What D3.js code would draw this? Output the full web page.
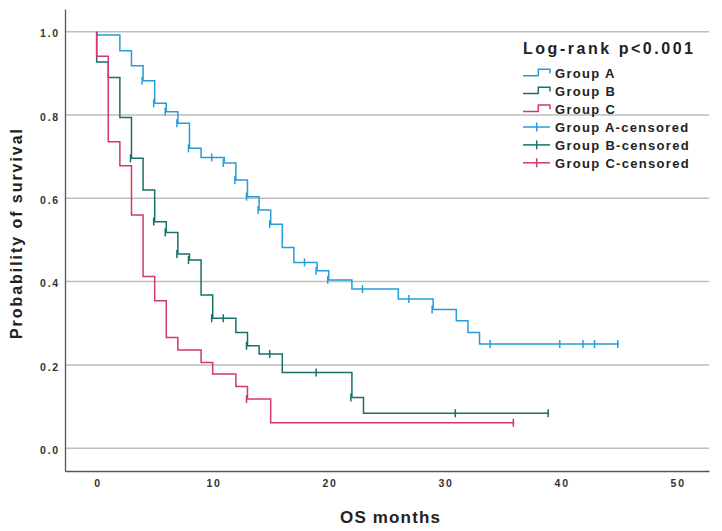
<!DOCTYPE html>
<html>
<head>
<meta charset="utf-8">
<script src="https://cdn.jsdelivr.net/npm/d3@7"></script>
<style>
  body { margin: 0; background: #fff; }
  svg { font-family: "Liberation Sans", Arial, sans-serif; }
</style>
</head>
<body>
<svg id="chart" width="722" height="531"></svg>
<script>
// Kaplan-Meier steps (time in months, survival after the drop)
const groupATimes = [0, 2, 3, 4, 5, 6, 7, 8, 9, 11, 12, 13, 14, 15, 16, 17, 19, 20, 22, 26, 29, 31, 32, 33];
const groupASurv  = [0.992, 0.954, 0.918, 0.882, 0.828, 0.808, 0.780, 0.720, 0.698, 0.685, 0.644, 0.604,
                     0.572, 0.538, 0.482, 0.446, 0.426, 0.404, 0.382, 0.358, 0.333, 0.306, 0.278, 0.250];
const groupAEnd = 45;
const groupACensored = [4, 5, 6, 7, 8, 10, 11, 12, 13, 14, 15, 18, 19, 20, 23, 27, 29, 34, 40, 42, 43, 45];

const groupBTimes = [0, 1, 2, 3, 4, 5, 6, 7, 8, 9, 10, 12, 13, 14, 16, 22, 23];
const groupBSurv  = [0.927, 0.890, 0.794, 0.696, 0.620, 0.544, 0.518, 0.466, 0.452, 0.368, 0.312, 0.278,
                     0.246, 0.226, 0.182, 0.122, 0.084];
const groupBEnd = 39;
const groupBCensored = [3, 5, 6, 7, 8, 10, 11, 13, 15, 19, 22, 31, 39];

const groupCTimes = [0, 1, 2, 3, 4, 5, 6, 7, 9, 10, 12, 13, 15];
const groupCSurv  = [0.941, 0.736, 0.678, 0.560, 0.412, 0.354, 0.266, 0.236, 0.206, 0.178, 0.148, 0.118, 0.061];
const groupCEnd = 36;
const groupCCensored = [13, 36];

const groupNames = ["Group A", "Group B", "Group C"];
const groupColors = ["#269dd8", "#17706a", "#cf3a6c"];

const xTicks = [0, 10, 20, 30, 40, 50];
const yTicks = [0, 0.2, 0.4, 0.6, 0.8, 1.0];

const title = "Log-rank p<0.001";
const xLabel = "OS months";
const yLabel = "Probability of survival";

const groups = [
  {times: groupATimes, surv: groupASurv, end: groupAEnd, cens: groupACensored},
  {times: groupBTimes, surv: groupBSurv, end: groupBEnd, cens: groupBCensored},
  {times: groupCTimes, surv: groupCSurv, end: groupCEnd, cens: groupCCensored}
];

const svg = d3.select("#chart");
const plotLeft = 65, plotRight = 709, plotTop = 9, plotBottom = 471;

const x = d3.scaleLinear().domain([-2.73, 52.78]).range([plotLeft, plotRight]);
const y = d3.scaleLinear().domain([-0.0547, 1.0545]).range([plotBottom, plotTop]);

// horizontal gridlines
svg.append("g")
  .selectAll("line")
  .data(yTicks)
  .join("line")
  .attr("x1", plotLeft).attr("x2", plotRight)
  .attr("y1", d => y(d)).attr("y2", d => y(d))
  .attr("stroke", "#bdbdbd")
  .attr("stroke-width", 1.5);

// axes
const xAxis = svg.append("g")
  .attr("transform", `translate(0,${plotBottom})`)
  .call(d3.axisBottom(x).tickValues(xTicks).tickSizeInner(0).tickSizeOuter(0).tickPadding(9));
const yAxis = svg.append("g")
  .attr("transform", `translate(${plotLeft},0)`)
  .call(d3.axisLeft(y).tickValues(yTicks).tickFormat(d3.format(".1f")).tickSizeInner(0).tickSizeOuter(0).tickPadding(5));

[xAxis, yAxis].forEach(a => {
  a.select(".domain").attr("stroke", "#555").attr("stroke-width", 1.3);
  a.selectAll("text")
    .attr("fill", "#333")
    .style("font-size", "10.5px")
    .style("font-weight", "bold")
    .style("letter-spacing", "1.8px");
});
yAxis.selectAll("text").attr("dy", "0.5em");
xAxis.selectAll("text").attr("dx", "0.9px");

// survival step curves
const line = d3.line()
  .x(d => x(d[0]))
  .y(d => y(d[1]))
  .curve(d3.curveStepAfter);

function survAt(g, t) {
  let s = 1;
  g.times.forEach((tt, i) => { if (tt <= t) s = g.surv[i]; });
  return s;
}

groups.forEach((g, i) => {
  const pts = [[0, 1]];
  g.times.forEach((t, j) => pts.push([t, g.surv[j]]));
  pts.push([g.end, g.surv[g.surv.length - 1]]);

  svg.append("path")
    .datum(pts)
    .attr("d", line)
    .attr("fill", "none")
    .attr("stroke", groupColors[i])
    .attr("stroke-width", 1.5);

  svg.append("g")
    .selectAll("line")
    .data(g.cens)
    .join("line")
    .attr("x1", d => x(d) - 1).attr("x2", d => x(d) - 1)
    .attr("y1", d => y(survAt(g, d)) - 4)
    .attr("y2", d => y(survAt(g, d)) + 4)
    .attr("stroke", groupColors[i])
    .attr("stroke-width", 1.5);
});

// axis titles
svg.append("text")
  .attr("x", 390).attr("y", 523)
  .attr("text-anchor", "middle")
  .attr("fill", "#222")
  .style("font-size", "17px").style("font-weight", "bold")
  .attr("textLength", 100).attr("lengthAdjust", "spacing")
  .text(xLabel);

svg.append("text")
  .attr("transform", "translate(22,234) rotate(-90)")
  .attr("text-anchor", "middle")
  .attr("fill", "#222")
  .style("font-size", "16px").style("font-weight", "bold")
  .attr("textLength", 210).attr("lengthAdjust", "spacing")
  .text(yLabel);

// legend
const legend = svg.append("g");
legend.append("text")
  .attr("x", 523).attr("y", 54)
  .attr("fill", "#222")
  .style("font-size", "16px").style("font-weight", "bold")
  .attr("textLength", 170).attr("lengthAdjust", "spacing")
  .text(title);

const rowY = d3.scaleLinear().domain([0, 5]).range([78.3, 167.8]);
const legendRows = groupNames.map((n, i) => ({name: n, color: groupColors[i], kind: "step"}))
  .concat(groupNames.map((n, i) => ({name: n + "-censored", color: groupColors[i], kind: "cens"})));

legendRows.forEach((r, i) => {
  const by = rowY(i);
  if (r.kind === "step") {
    legend.append("path")
      .attr("d", `M523,${by - 2.6}H538.3V${by - 9}H550V${by - 4.8}`)
      .attr("fill", "none").attr("stroke", r.color).attr("stroke-width", 1.5);
  } else {
    legend.append("line")
      .attr("x1", 523).attr("x2", 550).attr("y1", by - 5).attr("y2", by - 5)
      .attr("stroke", r.color).attr("stroke-width", 1.5);
    legend.append("line")
      .attr("x1", 536.7).attr("x2", 536.7).attr("y1", by - 9.5).attr("y2", by - 0.5)
      .attr("stroke", r.color).attr("stroke-width", 1.5);
  }
  legend.append("text")
    .attr("x", 555).attr("y", by)
    .attr("fill", "#222")
    .style("font-size", "13px").style("font-weight", "bold")
    .style("letter-spacing", "1.3px")
    .text(r.name);
});
</script>
</body>
</html>
